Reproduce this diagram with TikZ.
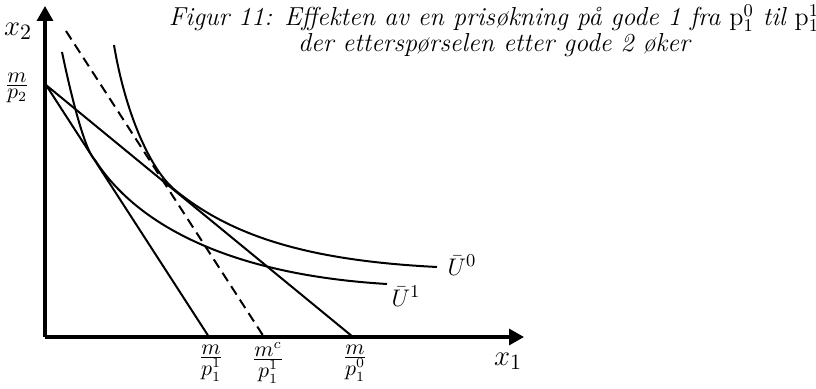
\documentclass[tikz,border=0pt]{standalone}
\usepackage{fontspec}
\usetikzlibrary{arrows.meta}
\newcommand{\stfrac}[2]{\frac{\textstyle #1}{\textstyle #2}}
\begin{document}
\begin{tikzpicture}[x=0.5pt,y=-0.5pt,
axis/.style={line width=1.6pt, -{Triangle[length=7.5pt,width=8pt]}},
budget/.style={line width=1pt},
curve/.style={line width=1pt},
lbl/.style={font=\fontsize{13}{15}\selectfont, inner sep=0pt},
frac/.style={font=\fontsize{10.5}{12}\selectfont, inner sep=0pt}
]
\useasboundingbox (0,0) rectangle (816,389);
\coordinate (O) at (45,337);
\coordinate (ytip) at (45,6);
\coordinate (xtip) at (524,337);
\coordinate (A) at (46,85);
\coordinate (b1) at (209,337);
\coordinate (bc) at (264,337);
\coordinate (b0) at (353,337);
\coordinate (C) at (66,31);
\draw[axis] (O) -- (ytip);
\draw[axis] (O) -- (xtip);
\node[lbl, font=\fontsize{15}{18}\selectfont] (x2) at (18,31) {$x_2$};
\node[lbl, font=\fontsize{15}{18}\selectfont] (x1) at (508,361) {$x_1$};
\node[frac] (mp2) at (17,88) {$\stfrac{m}{p_2}$};
\node[frac] (mp1) at (211,363) {$\stfrac{m}{p_1^1}$};
\node[frac] (mc) at (268,363) {$\stfrac{m^c}{p_1^1}$};
\node[frac] (mp0) at (355,363) {$\stfrac{m}{p_1^0}$};
\draw[budget] (A) -- (b1);
\draw[budget] (A) -- (b0);
\draw[budget, dash pattern=on 5pt off 3pt] (C) -- (bc);
% indifference curves
\draw[curve] (62,52) .. controls (72.5,102.4) and (85.7,152) .. (95,160)
  .. controls (137.7,226.5) and (232.4,274.8) .. (387,284);
\draw[curve] (114,45) .. controls (125,111) and (149.4,169) .. (175,190)
  .. controls (233,237.6) and (311.7,260.7) .. (437,267);
\node[lbl] (u0) at (462,265) {$\bar{U}^0$};
\node[lbl] (u1) at (406,296) {$\bar{U}^1$};
\node[align=center, inner sep=0pt, font=\fontsize{13}{12}\selectfont\itshape] (title) at (494,31)
  {Figur 11: Effekten av en prisøkning på gode 1 fra $\mathrm{p}_1^0$ til $\mathrm{p}_1^1$\\
   der etterspørselen etter gode 2 øker};
\end{tikzpicture}
\end{document}
